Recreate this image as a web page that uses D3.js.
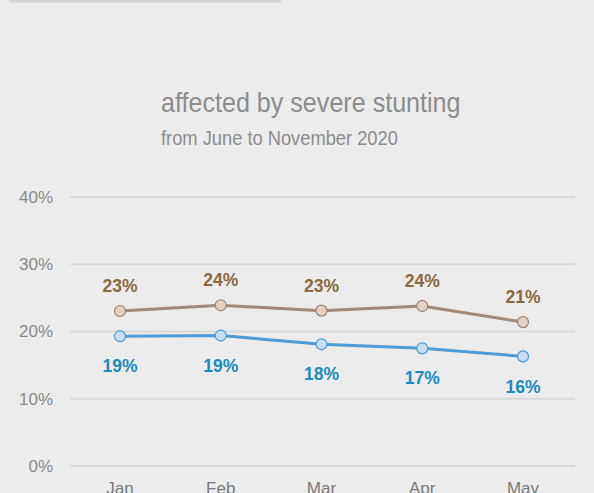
<!DOCTYPE html>
<html>
<head>
<meta charset="utf-8">
<script src="https://cdn.jsdelivr.net/npm/d3@7"></script>
<style>
  html, body { margin: 0; padding: 0; background: #ececec; }
  svg { display: block; font-family: "Liberation Sans", Arial, sans-serif; }
</style>
</head>
<body>
<svg id="chart" width="594" height="493"></svg>
<script>
// chart data
var months = ["Jan", "Feb", "Mar", "Apr", "May"];
var seriesBrown = [23.05, 23.9, 23.1, 23.8, 21.4];
var seriesBlue = [19.3, 19.4, 18.1, 17.5, 16.3];
var labelsBrown = ["23%", "24%", "23%", "24%", "21%"];
var labelsBlue = ["19%", "19%", "18%", "17%", "16%"];
var yTicks = [0, 10, 20, 30, 40];

var svg = d3.select("#chart");

// top strip
svg.append("rect").attr("x", 9).attr("y", 0).attr("width", 272).attr("height", 2.5)
    .attr("fill", "#d3d3d3");

// titles (slightly condensed face in the original)
svg.append("text").attr("transform", "translate(161,112) scale(0.93,1)")
    .attr("fill", "#8c8c8c").style("font-size", "27px")
    .text("affected by severe stunting");
svg.append("text").attr("transform", "translate(161,145) scale(0.915,1)")
    .attr("fill", "#8c8c8c").style("font-size", "20px")
    .text("from June to November 2020");

var x = d3.scalePoint().domain(months).range([120, 523]);
var y = d3.scaleLinear().domain([0, 40]).range([466, 197]);

// gridlines + y labels
var grid = svg.append("g");
grid.selectAll("line").data(yTicks).enter().append("line")
    .attr("x1", 70).attr("x2", 575)
    .attr("y1", function(d) { return y(d); })
    .attr("y2", function(d) { return y(d); })
    .attr("stroke", "#d9d9d9").attr("stroke-width", 2);
grid.selectAll("text").data(yTicks).enter().append("text")
    .attr("x", 53).attr("y", function(d) { return y(d); })
    .attr("dy", "0.35em").attr("text-anchor", "end")
    .attr("fill", "#8a8a8a").style("font-size", "17px")
    .text(function(d) { return d + "%"; });

// x labels (cut by the bottom edge, as in the original)
svg.append("g").selectAll("text").data(months).enter().append("text")
    .attr("x", function(d) { return x(d); }).attr("y", 494)
    .attr("text-anchor", "middle").attr("fill", "#7a7a7a")
    .style("font-size", "17px")
    .text(function(d) { return d; });

function drawSeries(values, labels, lineColor, fill, stroke, textColor, offset) {
    var pts = values.map(function(v, i) { return [months[i], v]; });
    var line = d3.line()
        .x(function(d) { return x(d[0]); })
        .y(function(d) { return y(d[1]); });
    svg.append("path").datum(pts).attr("d", line)
        .attr("fill", "none").attr("stroke", lineColor).attr("stroke-width", 3);
    svg.append("g").selectAll("circle").data(pts).enter().append("circle")
        .attr("cx", function(d) { return x(d[0]); })
        .attr("cy", function(d) { return y(d[1]); })
        .attr("r", 5.5).attr("fill", fill).attr("stroke", stroke).attr("stroke-width", 1.2);
    svg.append("g").selectAll("text").data(pts).enter().append("text")
        .attr("x", function(d) { return x(d[0]); })
        .attr("y", function(d) { return y(d[1]) + offset; })
        .attr("dy", "0.35em").attr("text-anchor", "middle")
        .attr("fill", textColor).style("font-size", "17.5px").style("font-weight", "bold")
        .text(function(d, i) { return labels[i]; });
}

drawSeries(seriesBrown, labelsBrown, "#a18a7a", "#e3d1c3", "#9c8472", "#8a6a3c", -25);
drawSeries(seriesBlue, labelsBlue, "#4b9cd7", "#c8ddf2", "#4b9cd7", "#1b8bc0", 30);
</script>
</body>
</html>
